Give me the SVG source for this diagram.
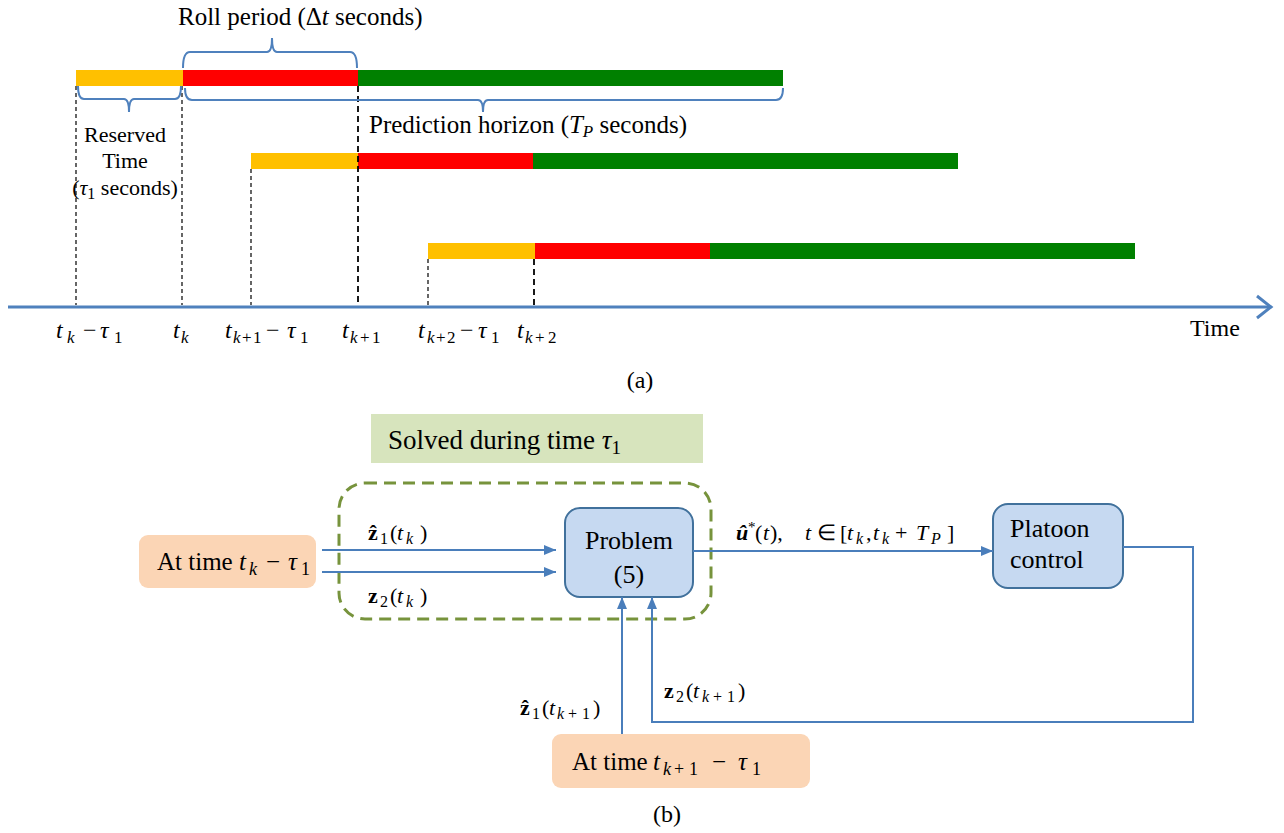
<svg xmlns="http://www.w3.org/2000/svg" width="1284" height="833" viewBox="0 0 1284 833">
<defs>
<style>
text{font-family:"Liberation Serif","Times New Roman",serif;fill:#000}
.i{font-style:italic}
.b{font-weight:bold}
.bi{font-weight:bold;font-style:italic}
.dash{stroke:#000;stroke-width:1.2;stroke-dasharray:4 3;fill:none}
.dashb{stroke:#000;stroke-width:1.8;stroke-dasharray:6 4;fill:none}
.brace{stroke:#4f81bd;stroke-width:2;fill:none}
.conn{stroke:#4a7ebb;stroke-width:2;fill:none}
.blue{fill:#c6d9f1;stroke:#41719c;stroke-width:2}
.peach{fill:#fbd5b5}
</style>
<marker id="ah" viewBox="0 0 12 10" refX="12" refY="5" markerWidth="12" markerHeight="10" markerUnits="userSpaceOnUse" orient="auto">
<path d="M0,0 L12,5 L0,10 Z" fill="#4a7ebb"/>
</marker>
</defs>
<rect width="1284" height="833" fill="#fff"/>

<!-- Part (a) -->
<g id="bars">
<rect x="76" y="70" width="107" height="16" fill="#ffc000"/>
<rect x="183" y="70" width="175" height="16" fill="#ff0000"/>
<rect x="358" y="70" width="425" height="16" fill="#008000"/>
<rect x="251" y="153" width="107" height="16" fill="#ffc000"/>
<rect x="358" y="153" width="175" height="16" fill="#ff0000"/>
<rect x="533" y="153" width="425" height="16" fill="#008000"/>
<rect x="428" y="243" width="107" height="16" fill="#ffc000"/>
<rect x="535" y="243" width="175" height="16" fill="#ff0000"/>
<rect x="710" y="243" width="425" height="16" fill="#008000"/>
</g>
<g id="guides">
<line class="dash" x1="76" y1="86" x2="76" y2="305"/>
<line class="dash" x1="182" y1="86" x2="182" y2="305"/>
<line class="dash" x1="251" y1="169" x2="251" y2="305"/>
<line class="dashb" x1="358" y1="86" x2="358" y2="305"/>
<line class="dash" x1="428" y1="259" x2="428" y2="305"/>
<line class="dashb" x1="534" y1="259" x2="534" y2="305"/>
</g>
<g id="braces">
<path class="brace" d="M183,68 Q183,52 190,52 L267,52 Q272,52 272,38 Q272,52 277,52 L350,52 Q357,52 357,68"/>
<path class="brace" d="M78,86 Q78,99 84,99 L124,99 Q129,99 129,112 Q129,99 134,99 L175,99 Q181,99 181,86"/>
<path class="brace" d="M185,88 Q185,100 192,100 L478,100 Q483,100 483,112 Q483,100 488,100 L776,100 Q783,100 783,88"/>
</g>
<g id="axis">
<line x1="8" y1="307" x2="1271" y2="307" stroke="#4f81bd" stroke-width="3"/>
<path d="M1257,296 L1271,307 L1257,318" stroke="#4f81bd" stroke-width="3" fill="none"/>
</g>
<g id="labels-a" font-size="25">
<text x="178" y="25">Roll period (Δ<tspan class="i">t</tspan> seconds)</text>
<text x="125" y="142" text-anchor="middle" font-size="22">Reserved</text>
<text x="125" y="168" text-anchor="middle" font-size="22">Time</text>
<text x="125" y="195" text-anchor="middle" font-size="22">(<tspan class="i">τ</tspan><tspan font-size="16" dy="4">1</tspan><tspan dy="-4"> seconds)</tspan></text>
<text x="369" y="133">Prediction horizon (<tspan class="i">T</tspan><tspan class="i" font-size="17" dy="4">P</tspan><tspan dy="-4"> seconds)</tspan></text>
<text x="1190" y="336" font-size="24">Time</text>
</g>
<g id="axis-labels" font-size="24">
<text y="338"><tspan class="i" x="56">t</tspan><tspan class="i" font-size="17" x="67" dy="5">k</tspan><tspan x="83" dy="-5">−</tspan><tspan class="i" x="100">τ</tspan><tspan font-size="17" x="114" dy="5">1</tspan></text>
<text y="338"><tspan class="i" x="173">t</tspan><tspan class="i" font-size="17" x="181" dy="5">k</tspan></text>
<text y="338"><tspan class="i" x="225">t</tspan><tspan class="i" font-size="17" x="233" dy="5">k</tspan><tspan font-size="17" x="242">+</tspan><tspan font-size="17" x="253">1</tspan><tspan x="266" dy="-5">−</tspan><tspan class="i" x="287">τ</tspan><tspan font-size="17" x="300" dy="5">1</tspan></text>
<text y="338"><tspan class="i" x="342">t</tspan><tspan class="i" font-size="17" x="350" dy="5">k</tspan><tspan font-size="17" x="360">+</tspan><tspan font-size="17" x="372">1</tspan></text>
<text y="338"><tspan class="i" x="418">t</tspan><tspan class="i" font-size="17" x="427" dy="5">k</tspan><tspan font-size="17" x="436">+</tspan><tspan font-size="17" x="447">2</tspan><tspan x="460" dy="-5">−</tspan><tspan class="i" x="478">τ</tspan><tspan font-size="17" x="491" dy="5">1</tspan></text>
<text y="338"><tspan class="i" x="517">t</tspan><tspan class="i" font-size="17" x="525" dy="5">k</tspan><tspan font-size="17" x="535">+</tspan><tspan font-size="17" x="548">2</tspan></text>
<text x="640" y="388" text-anchor="middle" font-size="24">(a)</text>
</g>

<!-- Part (b) -->
<g id="solved-label">
<rect x="371" y="414" width="332" height="49" fill="#d7e4bd"/>
<text x="388" y="449" font-size="27">Solved during time <tspan class="i">τ</tspan><tspan font-size="19" dy="5">1</tspan></text>
</g>
<g id="solve-region">
<rect x="339" y="483" width="372" height="136" rx="26" fill="none" stroke="#77933c" stroke-width="3" stroke-dasharray="12 7"/>
</g>
<g id="start-k">
<rect class="peach" x="139" y="535" width="177" height="53" rx="9"/>
<text x="157" y="570" font-size="25">At time<tspan class="i" x="239">t</tspan><tspan class="i" font-size="18" x="249" dy="5">k</tspan><tspan x="266" dy="-5">−</tspan><tspan class="i" x="288">τ</tspan><tspan font-size="18" x="301" dy="5">1</tspan></text>
</g>
<g id="problem">
<rect class="blue" x="565" y="508" width="128" height="89" rx="15"/>
<text x="629" y="549" font-size="26" text-anchor="middle">Problem</text>
<text x="629" y="583" font-size="26" text-anchor="middle">(5)</text>
</g>
<g id="platoon">
<rect class="blue" x="993" y="504" width="130" height="84" rx="15"/>
<text x="1010" y="537" font-size="26">Platoon</text>
<text x="1010" y="568" font-size="26">control</text>
</g>
<g id="start-k1">
<rect class="peach" x="552" y="734" width="258" height="54" rx="9"/>
<text x="572" y="770" font-size="25">At time<tspan class="i" x="653">t</tspan><tspan class="i" font-size="18" x="663" dy="5">k</tspan><tspan font-size="18" x="674">+</tspan><tspan font-size="18" x="689">1</tspan><tspan x="712" dy="-5">−</tspan><tspan class="i" x="738">τ</tspan><tspan font-size="18" x="752" dy="5">1</tspan></text>
</g>
<g id="connectors">
<line class="conn" x1="322" y1="550" x2="556" y2="550" marker-end="url(#ah)"/>
<line class="conn" x1="322" y1="572" x2="556" y2="572" marker-end="url(#ah)"/>
<line class="conn" x1="693" y1="551" x2="993" y2="551" marker-end="url(#ah)"/>
<line class="conn" x1="622" y1="734" x2="622" y2="597" marker-end="url(#ah)"/>
<path class="conn" d="M1123,547 L1193,547 L1193,722 L652,722 L652,597" marker-end="url(#ah)"/>
</g>
<g id="connector-labels" font-size="22">
<text y="540"><tspan class="b" x="368">ẑ</tspan><tspan font-size="16" x="380" dy="4">1</tspan><tspan x="390" dy="-4">(</tspan><tspan class="i" x="397">t</tspan><tspan class="i" font-size="16" x="406" dy="4">k</tspan><tspan x="420" dy="-4">)</tspan></text>
<text y="603"><tspan class="b" x="368">z</tspan><tspan font-size="16" x="380" dy="4">2</tspan><tspan x="390" dy="-4">(</tspan><tspan class="i" x="397">t</tspan><tspan class="i" font-size="16" x="406" dy="4">k</tspan><tspan x="420" dy="-4">)</tspan></text>
<text y="540"><tspan class="bi" x="736">û</tspan><tspan font-size="15" x="748" dy="-8">*</tspan><tspan x="755" dy="8">(</tspan><tspan class="i" x="763">t</tspan><tspan x="770">),</tspan><tspan class="i" x="805">t</tspan><tspan x="817">∈</tspan><tspan x="840">[</tspan><tspan class="i" x="847">t</tspan><tspan class="i" font-size="16" x="856" dy="4">k</tspan><tspan x="866" dy="-4">,</tspan><tspan class="i" x="873">t</tspan><tspan class="i" font-size="16" x="882" dy="4">k</tspan><tspan x="895" dy="-4">+</tspan><tspan class="i" x="916">T</tspan><tspan class="i" font-size="16" x="931" dy="4">P</tspan><tspan x="947" dy="-4">]</tspan></text>
<text y="715"><tspan class="b" x="520">ẑ</tspan><tspan font-size="16" x="532" dy="4">1</tspan><tspan x="542" dy="-4">(</tspan><tspan class="i" x="549">t</tspan><tspan class="i" font-size="16" x="557" dy="4">k</tspan><tspan font-size="16" x="568">+</tspan><tspan font-size="16" x="582">1</tspan><tspan x="593" dy="-4">)</tspan></text>
<text y="698"><tspan class="b" x="664">z</tspan><tspan font-size="16" x="676" dy="4">2</tspan><tspan x="686" dy="-4">(</tspan><tspan class="i" x="693">t</tspan><tspan class="i" font-size="16" x="702" dy="4">k</tspan><tspan font-size="16" x="713">+</tspan><tspan font-size="16" x="727">1</tspan><tspan x="738" dy="-4">)</tspan></text>
<text x="667" y="822" text-anchor="middle" font-size="24">(b)</text>
</g>
</svg>
